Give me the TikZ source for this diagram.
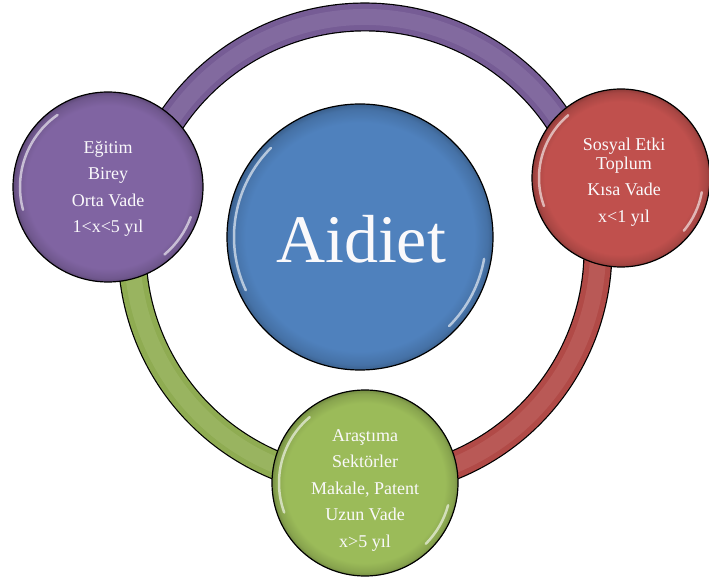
\documentclass[tikz,border=0pt]{standalone}
\usepackage{fontspec}
\setmainfont{Liberation Serif}
\usetikzlibrary{calc}
\definecolor{cP}{HTML}{8064A2}
\definecolor{cR}{HTML}{C0504D}
\definecolor{cG}{HTML}{9BBB59}
\definecolor{cB}{HTML}{4F81BD}
\pgfdeclareradialshading{shP}{\pgfpoint{0bp}{0bp}}{color(0bp)=(cP); color(21.5bp)=(cP); color(24bp)=(cP!88!black); color(25bp)=(cP!75!black); color(50bp)=(cP!75!black)}
\pgfdeclareradialshading{shR}{\pgfpoint{0bp}{0bp}}{color(0bp)=(cR); color(21.5bp)=(cR); color(24bp)=(cR!88!black); color(25bp)=(cR!75!black); color(50bp)=(cR!75!black)}
\pgfdeclareradialshading{shG}{\pgfpoint{0bp}{0bp}}{color(0bp)=(cG); color(21.5bp)=(cG); color(24bp)=(cG!88!black); color(25bp)=(cG!75!black); color(50bp)=(cG!75!black)}
\pgfdeclareradialshading{shB}{\pgfpoint{0bp}{0bp}}{color(0bp)=(cB); color(21.5bp)=(cB); color(24bp)=(cB!88!black); color(25bp)=(cB!75!black); color(50bp)=(cB!75!black)}
\tikzset{
  ball/.style={circle, draw=black, line width=1.2pt, inner sep=0pt, shade},
  hl/.style={white, opacity=0.6, line width=2.5pt, line cap=round},
  txt/.style={text=white!96!cP, align=center, font=\fontsize{18}{26.5}\selectfont, inner sep=0pt},
  bandout/.style={line width=29pt, draw=black},
  bandin/.style={line width=26.6pt},
  bandmid/.style={line width=16pt, opacity=0.2}
}
\begin{document}
\begin{tikzpicture}[x=1pt,y=1pt]
\fill[white] (0,0) rectangle (709,584);
\useasboundingbox (0,0) rectangle (709,584);
\coordinate (ring) at (365,334);
% bands
\foreach \a/\b/\c in {166.2/15.7/cP, 166.2/270/cG, 270/375.7/cR}{
  \draw[bandout] ($(ring)+(\a:233)$) arc[start angle=\a, end angle=\b, radius=233];
  \draw[bandin, draw=\c!92!black] ($(ring)+(\a:233)$) arc[start angle=\a, end angle=\b, radius=233];
  \draw[bandmid, draw=\c!60!white] ($(ring)+(\a:233)$) arc[start angle=\a, end angle=\b, radius=233];
}
% circles
\node[ball, shading=shB, minimum size=266pt] (B) at (360,347) {};
\node[ball, shading=shP, minimum size=190pt] (P) at (108,397) {};
\node[ball, shading=shR, minimum size=178pt] (R) at (621,406) {};
\node[ball, shading=shG, minimum size=186pt] (G) at (365,101) {};
% highlights
\draw[hl] ($(B)+(135:126)$) arc[start angle=135, end angle=205, radius=126];
\draw[hl] ($(B)+(-45:126)$) arc[start angle=-45, end angle=-10, radius=126];
\draw[hl] ($(P)+(125:88)$) arc[start angle=125, end angle=195, radius=88];
\draw[hl] ($(P)+(-50:88)$) arc[start angle=-50, end angle=-20, radius=88];
\draw[hl] ($(R)+(130:82)$) arc[start angle=130, end angle=200, radius=82];
\draw[hl] ($(R)+(-40:82)$) arc[start angle=-40, end angle=-10, radius=82];
\draw[hl] ($(G)+(130:86)$) arc[start angle=130, end angle=200, radius=86];
\draw[hl] ($(G)+(-45:86)$) arc[start angle=-45, end angle=-15, radius=86];
% texts
\node[txt] (tB) at (361,345) {\fontsize{68}{70}\selectfont Aidiet};
\node[txt] (tP) at (108,395) {Eğitim\\Birey\\Orta Vade\\1<x<5 yıl};
\node[txt] (tR) at (624,402) {Sosyal Etki\\[-7.5pt]Toplum\\Kısa Vade\\x<1 yıl};
\node[txt] (tG) at (365,94) {Araştıma\\Sektörler\\Makale, Patent\\Uzun Vade\\x>5 yıl};
\end{tikzpicture}
\end{document}
